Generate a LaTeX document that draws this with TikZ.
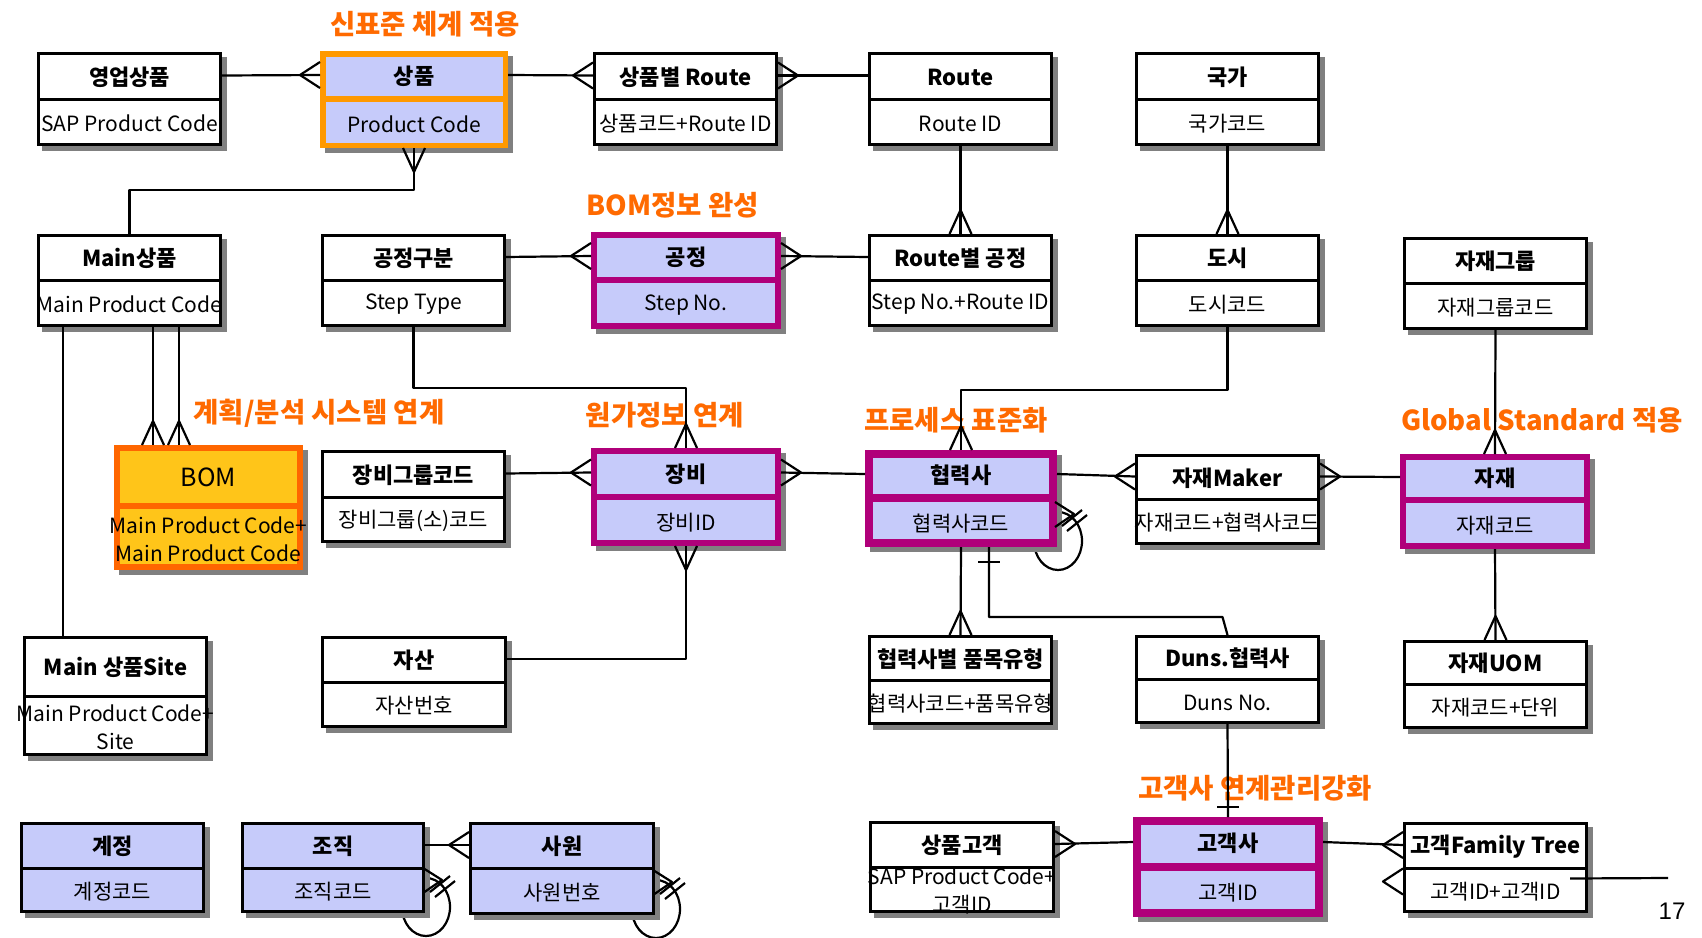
\documentclass[tikz,border=0pt]{standalone}
\usepackage{fontspec}
\setmainfont{Noto Sans CJK KR}
\newfontfamily\numfnt{Liberation Sans}
\usetikzlibrary{calc,backgrounds}

\definecolor{lav}{HTML}{C6CBFA}
\definecolor{magc}{HTML}{B0007A}
\definecolor{orgb}{HTML}{FF9900}
\definecolor{bomb}{HTML}{FF6600}
\definecolor{bomf}{HTML}{FFC519}
\definecolor{shad}{HTML}{808080}
\definecolor{lblc}{HTML}{FF6A00}

\newcommand\Hfnt{\fontsize{22}{26}\selectfont\bfseries}
\newcommand\Afnt{\fontsize{21}{28}\selectfont}
\newcommand\Lfnt{\fontsize{27.5}{32}\selectfont\bfseries}

\tikzset{
 cell/.style={rectangle, inner sep=0pt, outer sep=0pt},
 htext/.style={inner sep=0pt, align=center, font=\Hfnt},
 atext/.style={inner sep=0pt, align=center, font=\Afnt},
 fillplain/.style={fill=white}, lineplain/.style={draw=black, line width=3pt},
 filllav/.style={fill=lav}, linelav/.style={draw=black, line width=3pt},
 fillmag/.style={fill=lav}, linemag/.style={draw=magc, line width=6pt},
 fillmagT/.style={fill=lav}, linemagT/.style={draw=magc, line width=8pt},
 fillorg/.style={fill=lav}, lineorg/.style={draw=orgb, line width=5.5pt},
 fillbom/.style={fill=bomf}, linebom/.style={draw=bomb, line width=6pt},
 conn/.style={line width=2.2pt, line join=round},
 lbl/.style={text=lblc, font=\Lfnt, inner sep=0pt},
}
\def\bwplain{3}\def\bwlav{3}\def\bwmag{6}\def\bwmagT{8}\def\bworg{5.5}\def\bwbom{6}

% #1 name #2 x1 #3 y1 #4 x2 #5 y2 #6 ydiv #7 kind #8 title #9 attribute
\newcommand\ent[9]{%
 \pgfmathsetmacro\hb{\csname bw#7\endcsname/2}%
 \fill[shad] ($(#2,#3)+(5,5)$) rectangle ($(#4,#5)+(5,5)$);
 \fill[fill#7] (#2,#3) rectangle (#4,#5);
 \node[cell, minimum width={(#4-#2)*1pt}, minimum height={(#6-#3)*1pt}] (#1-h) at ({(#2+#4)/2},{(#3+#6)/2}) {};
 \node[cell, minimum width={(#4-#2)*1pt}, minimum height={(#5-#6)*1pt}] (#1-b) at ({(#2+#4)/2},{(#6+#5)/2}) {};
 \draw[line#7] ({#2+\hb},{#3+\hb}) rectangle ({#4-\hb},{#5-\hb}) ({#2+\hb},#6) -- ({#4-\hb},#6);
 \node[htext] (#1-ht) at ($(#1-h.center)+(0,1.5)$) {#8};
 \node[atext] (#1-bt) at ($(#1-b.center)+(0,1)$) {#9};
}
\newcommand\crowL[1]{\draw[conn] ($(#1)+(0,-13)$) -- ($(#1)+(-20,0)$) -- ($(#1)+(0,13)$);}
\newcommand\crowR[1]{\draw[conn] ($(#1)+(0,-13)$) -- ($(#1)+(20,0)$) -- ($(#1)+(0,13)$);}
\newcommand\crowT[1]{\draw[conn] ($(#1)+(-11,0)$) -- ($(#1)+(0,-24)$) -- ($(#1)+(11,0)$);}
\newcommand\crowB[1]{\draw[conn] ($(#1)+(-11,0)$) -- ($(#1)+(0,24)$) -- ($(#1)+(11,0)$);}
\newcommand\selfL[1]{%
 \begin{scope}[on background layer]\draw[conn] ($(#1)+(1,-6)$) ellipse [x radius=24pt, y radius=29pt];\end{scope}
 \draw[conn] ($(#1)+(-2,-45)$) -- ($(#1)+(17,-33)$) -- ($(#1)+(-2,-20)$);
 \draw[conn] ($(#1)+(5,-21)$) -- ($(#1)+(25,-37)$);
 \draw[conn] ($(#1)+(10,-16)$) -- ($(#1)+(30,-32)$);
}

\begin{document}
\begin{tikzpicture}[x=1pt,y=-1pt]
\useasboundingbox (0,0) rectangle (1702,937);
\begin{scope}[on background layer]\fill[white] (0,0) rectangle (1702,937);\end{scope}

% labels
\node[lbl] (l1) at (425,24) {신표준 체계 적용};
\node[lbl] (l2) at (673,205) {BOM정보 완성};
\node[lbl] (l3) at (319,413) {계획/분석 시스템 연계};
\node[lbl] (l4) at (665,415) {원가정보 연계};
\node[lbl] (l5) at (956,420) {프로세스 표준화};
\node[lbl] (l6) at (1542,420) {Global Standard 적용};
\node[lbl] (l7) at (1255,788) {고객사 연계관리강화};

% entities
\ent{yp}{37}{52}{222}{146}{99}{plain}{영업상품}{SAP Product Code}
\ent{sp}{320}{51}{508}{148}{99}{org}{상품}{Product Code}
\ent{spr}{593}{52}{778}{146}{99}{plain}{상품별 Route}{상품코드+Route ID}
\ent{rt}{868}{52}{1053}{146}{99}{plain}{Route}{Route ID}
\ent{nat}{1135}{52}{1320}{146}{99}{plain}{국가}{국가코드}

\ent{msp}{37}{234}{222}{327}{280}{plain}{Main상품}{Main Product Code}
\ent{pc}{321}{234}{506}{327}{280}{plain}{공정구분}{Step Type}
\ent{proc}{591}{232}{781}{329}{280}{mag}{공정}{Step No.}
\ent{rtp}{868}{234}{1053}{327}{280}{plain}{Route별 공정}{Step No.+Route ID}
\ent{city}{1135}{234}{1320}{327}{280}{plain}{도시}{도시코드}
\ent{mg}{1403}{237}{1588}{330}{283}{plain}{자재그룹}{자재그룹코드}

\ent{bom}{114}{445}{303}{570}{506}{bom}{\mdseries\fontsize{25}{28}\selectfont BOM}{Main Product Code+\\Main Product Code}
\ent{eg}{321}{450}{506}{543}{497}{plain}{장비그룹코드}{장비그룹(소)코드}
\ent{eq}{591}{448}{781}{546}{497}{mag}{장비}{장비ID}
\ent{co}{865}{450}{1057}{547}{498}{magT}{협력사}{협력사코드}
\ent{mk}{1135}{454}{1320}{545}{499}{plain}{자재Maker}{자재코드+협력사코드}
\ent{mat}{1400}{454}{1590}{549}{500}{mag}{자재}{자재코드}

\ent{mss}{23}{636}{208}{756}{696}{plain}{Main 상품Site}{Main Product Code+\\Site}
\ent{as}{321}{636}{507}{728}{682}{plain}{자산}{자산번호}
\ent{cpt}{868}{635}{1053}{725}{680}{plain}{협력사별 품목유형}{협력사코드+품목유형}
\ent{duns}{1135}{635}{1320}{724}{679}{plain}{Duns.협력사}{Duns No.}
\ent{uom}{1403}{640}{1588}{729}{684}{plain}{자재UOM}{자재코드+단위}

\ent{acc}{20}{822}{205}{913}{868}{lav}{계정}{계정코드}
\ent{org}{241}{822}{425}{913}{868}{lav}{조직}{조직코드}
\ent{emp}{469}{822}{655}{915}{868}{lav}{사원}{사원번호}
\ent{pcu}{869}{821}{1055}{913}{867}{plain}{상품고객}{SAP Product Code+\\고객ID}
\ent{cust}{1133}{817}{1323}{917}{867}{magT}{고객사}{고객ID}
\ent{ft}{1403}{822}{1588}{913}{868}{plain}{고객Family Tree}{고객ID+고객ID}

\node[font=\numfnt\fontsize{24}{28}\selectfont, inner sep=0pt] (pg) at (1672,911) {17};

% helper coordinates
\coordinate (mx1) at (63,0);
\coordinate (bx1) at (153,0);
\coordinate (bx2) at (179,0);
\coordinate (cx) at (989,0);
\coordinate (b1) at (bom-h.north -| bx1);
\coordinate (b2) at (bom-h.north -| bx2);
\coordinate (ftc) at ($(ft-b.west)+(0,-9)$);
\coordinate (ftend) at (1668,878);

% connectors
\draw[conn] (yp-h.east) -- (sp-h.west); \crowL{sp-h.west}
\draw[conn] (sp-h.east) -- (spr-h.west); \crowL{spr-h.west}
\draw[conn] (spr-h.east) -- (rt-h.west); \crowR{spr-h.east}
\draw[conn] (sp-b.south) |- ($(msp-h.north)+(0,-44)$) -- (msp-h.north); \crowB{sp-b.south}
\draw[conn] (rt-b.south) -- (rtp-h.north); \crowT{rtp-h.north}
\draw[conn] (nat-b.south) -- (city-h.north); \crowT{city-h.north}
\draw[conn] (pc-h.east) -- (proc-h.west); \crowL{proc-h.west}
\draw[conn] (proc-h.east) -- (rtp-h.west); \crowR{proc-h.east}
\draw[conn] (pc-b.south) |- ($(eq-h.north)+(0,-60)$) -- (eq-h.north); \crowT{eq-h.north}
\draw[conn] (msp-b.south -| mx1) -- (mss-h.north -| mx1);
\draw[conn] (msp-b.south -| bx1) -- (b1); \crowT{b1}
\draw[conn] (msp-b.south -| bx2) -- (b2); \crowT{b2}
\draw[conn] (eg-h.east) -- (eq-h.west); \crowL{eq-h.west}
\draw[conn] (eq-h.east) -- (co-h.west); \crowR{eq-h.east}
\draw[conn] (eq-b.south) |- (as-h.east); \crowB{eq-b.south}
\draw[conn] (city-b.south) |- ($(co-h.north)+(0,-60)$) -- (co-h.north); \crowT{co-h.north}
\draw[conn] (co-h.east) -- (mk-h.west); \crowL{mk-h.west}
\draw[conn] (mk-h.east) -- (mat-h.west); \crowR{mk-h.east}
\draw[conn] (mg-b.south) -- (mat-h.north); \crowT{mat-h.north}
\draw[conn] (mat-b.south) -- (uom-h.north); \crowT{uom-h.north}
\draw[conn] (co-b.south) -- (cpt-h.north); \crowT{cpt-h.north}
\draw[conn] (co-b.south -| cx) |- ($(duns-h.north)+(-5,-18)$) -- (duns-h.north);
\draw[conn] ($(co-b.south -| cx)+(-11,15)$) -- ($(co-b.south -| cx)+(11,15)$);
\selfL{co-b.south east}
\draw[conn] (org-h.east) -- (emp-h.west); \crowL{emp-h.west}
\selfL{org-b.south east}
\selfL{emp-b.south east}
\draw[conn] (duns-b.south) -- (cust-h.north);
\draw[conn] ($(cust-h.north)+(-11,-10)$) -- ($(cust-h.north)+(11,-10)$);
\draw[conn] (pcu-h.east) -- (cust-h.west); \crowR{pcu-h.east}
\draw[conn] (cust-h.east) -- (ft-h.west); \crowL{ft-h.west}
\crowL{ftc}
\draw[conn] ($(ft-b.east)+(-18,-12)$) -- (ftend);
\end{tikzpicture}
\end{document}
